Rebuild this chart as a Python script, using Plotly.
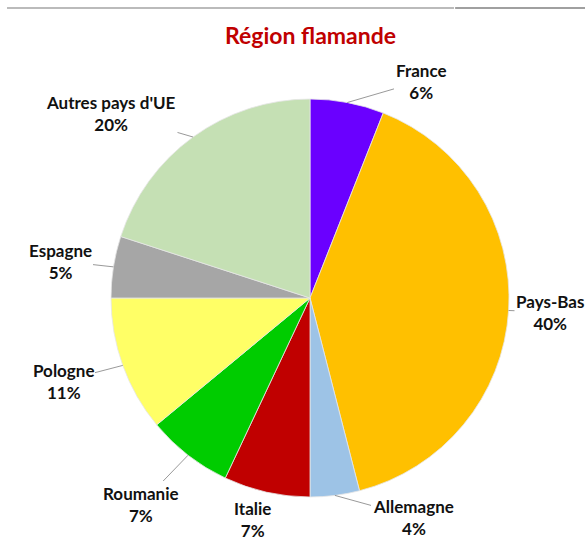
import math
import plotly.graph_objects as go

# parts de la Région flamande (%), dans le sens horaire depuis midi
pays = ["France", "Pays-Bas", "Allemagne", "Italie", "Roumanie", "Pologne", "Espagne", "Autres pays d'UE"]
parts = [6, 40, 4, 7, 7, 11, 5, 20]
couleurs = ["#6A00FF", "#FFC000", "#9DC3E6", "#C00000", "#00CC00", "#FFFF66", "#A6A6A6", "#C5E0B4"]

W, H = 585, 541
# centre et rayon du camembert en pixels
CX, CY, R = 310, 298, 199

# position du centre de chaque étiquette (pixels) et présence d'une ligne de rappel
label_pos = [(421, 81), (550, 312), (413, 517), (252, 519), (141, 504), (63, 381), (60, 261), (111, 113)]
leader = [True, True, True, False, True, True, True, True]

fig = go.Figure(go.Pie(
    labels=pays,
    values=parts,
    sort=False,
    direction="clockwise",
    rotation=0,
    marker=dict(colors=couleurs, line=dict(color="#e6e6e6", width=0.8)),
    textinfo="none",
    hoverinfo="label+percent",
    domain=dict(x=[(CX - R) / W, (CX + R) / W], y=[1 - (CY + R) / H, 1 - (CY - R) / H]),
    showlegend=False,
))

total = sum(parts)
cum = 0
for nom, v, (lx, ly), show in zip(pays, parts, label_pos, leader):
    mid = (cum + v / 2) / total * 2 * math.pi
    cum += v
    ex = CX + R * math.sin(mid)
    ey = CY - R * math.cos(mid)
    fig.add_annotation(
        xref="paper", yref="paper",
        x=ex / W, y=1 - ey / H,
        ax=lx - ex, ay=ly - ey,
        text=f"{nom}<br>{v}%",
        showarrow=True,
        arrowhead=0,
        arrowwidth=0.8,
        arrowcolor="#7f7f7f" if show else "rgba(0,0,0,0)",
        font=dict(family="Lato", size=17, color="#111111", weight="bold"),
        align="center",
    )

fig.add_annotation(
    xref="paper", yref="paper", x=310 / W, y=1 - 35 / H,
    xanchor="center", yanchor="middle",
    text="Région flamande", showarrow=False,
    font=dict(family="Lato", size=23, color="#C00000", weight="bold"),
)

# filets gris en haut de la page
fig.add_shape(type="line", xref="paper", yref="paper", x0=0.012, x1=0.776, y0=0.985, y1=0.985,
              line=dict(color="#bbbbbb", width=2), layer="above")
fig.add_shape(type="line", xref="paper", yref="paper", x0=0.778, x1=1, y0=0.985, y1=0.985,
              line=dict(color="#a0a0a0", width=2), layer="above")

fig.update_layout(
    width=W, height=H,
    margin=dict(l=0, r=0, t=0, b=0),
    paper_bgcolor="white",
    plot_bgcolor="white",
)

fig.write_html("out.html", config={"displayModeBar": False},
               post_script="document.body.style.margin='0';document.body.style.overflow='hidden';")
